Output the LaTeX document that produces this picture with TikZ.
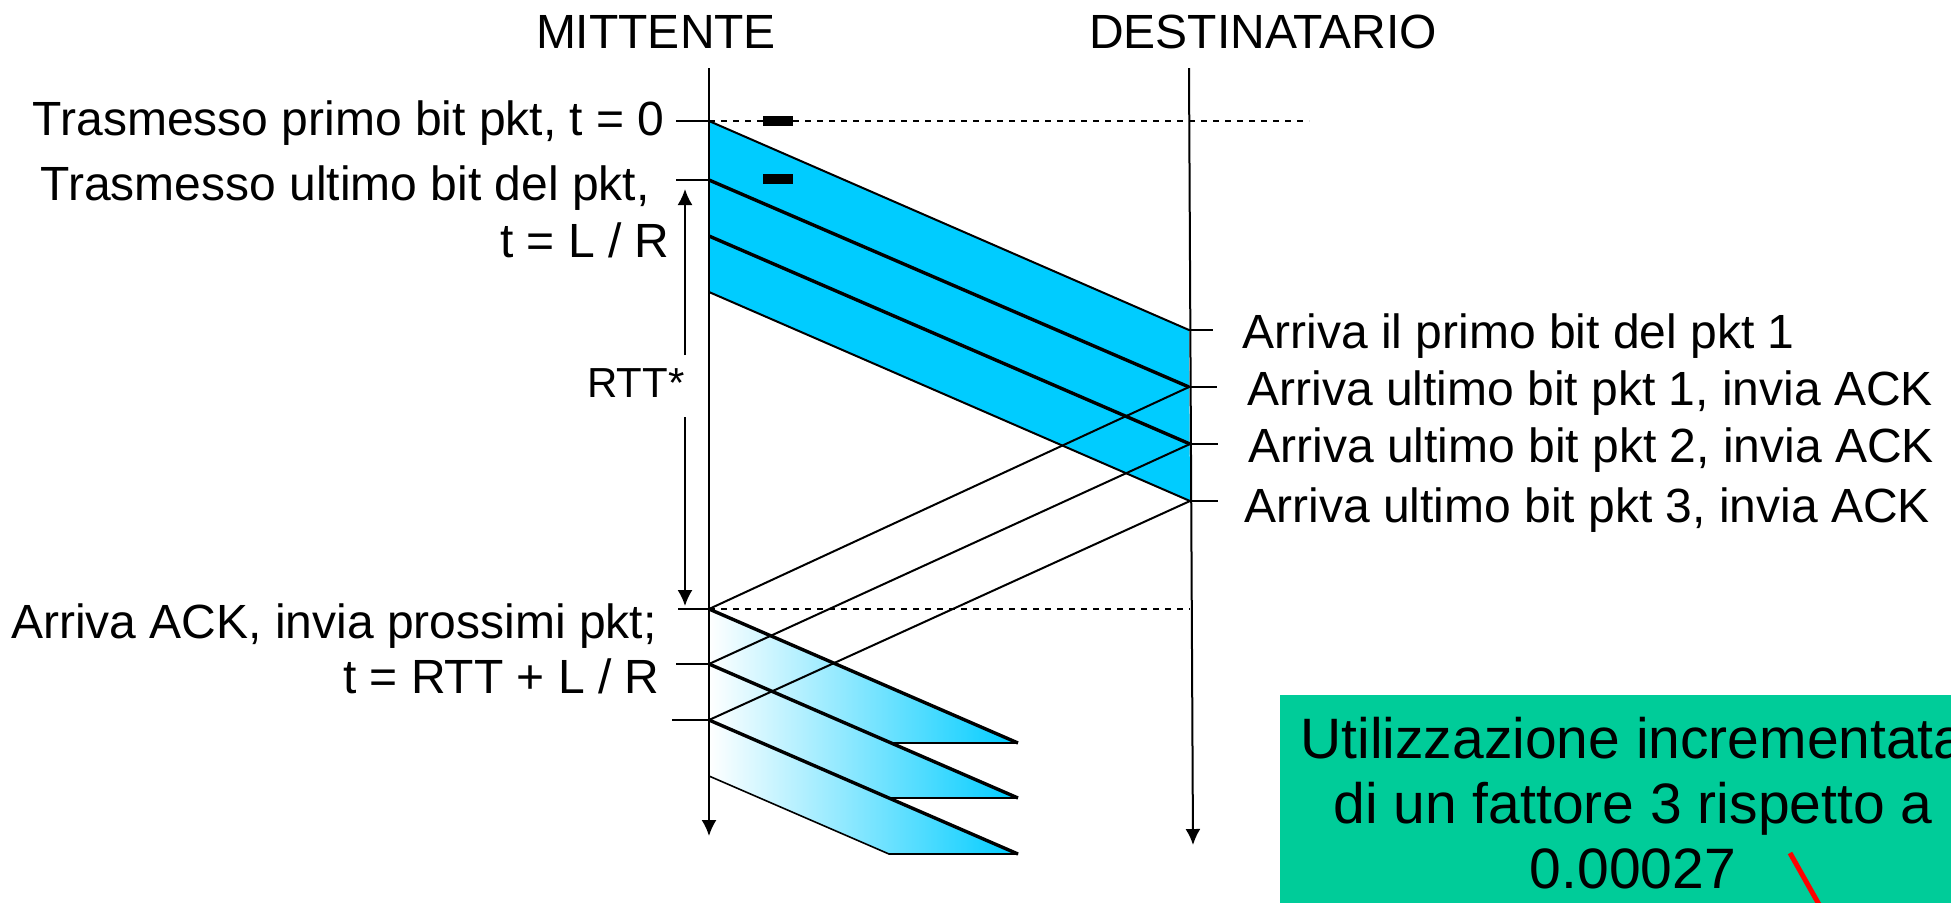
\documentclass[tikz,border=0pt]{standalone}
\usepackage{fontspec}
\setmainfont{Liberation Sans}
\usetikzlibrary{arrows.meta,positioning}

\definecolor{pktblue}{RGB}{0,204,255}
\definecolor{boxgreen}{RGB}{0,204,153}

\tikzset{
	timeline/.style={line width=1pt, -{Latex[length=8pt,width=7.5pt]}},
	tick/.style={line width=0.8pt},
	edgeline/.style={line width=1pt},
	bitline/.style={line width=1.7pt},
	ackline/.style={line width=1pt},
	lbl/.style={font=\fontsize{24}{28}\selectfont, inner sep=0pt},
	blip/.style={fill=black, minimum width=15pt, minimum height=5pt, inner sep=0pt},
}

\begin{document}
\begin{tikzpicture}[x=0.5pt,y=-0.5pt]
	\useasboundingbox (0,0) rectangle (1951,902);
	\clip (0,0) rectangle (1951,902);

	% points on the sender and receiver lines
	\coordinate (sTop) at (709,68);
	\coordinate (sEnd) at (709,836);
	\coordinate (rTop) at (1189,68);
	\coordinate (rEnd) at (1193,845);
	\coordinate (s0) at (709,121);
	\coordinate (s1) at (709,180);
	\coordinate (s2) at (709,236);
	\coordinate (s3) at (709,292);
	\coordinate (r0) at (1189,330);
	\coordinate (r1) at (1189,387);
	\coordinate (r2) at (1190,444);
	\coordinate (r3) at (1190,501);
	\coordinate (a1) at (709,609);
	\coordinate (a2) at (709,664);
	\coordinate (a3) at (709,720);
	\coordinate (a4) at (709,776);
	\coordinate (t1) at (1018,743);
	\coordinate (t2) at (1018,798);
	\coordinate (t3) at (1018,854);
	\coordinate (b1) at (890,743);
	\coordinate (b2) at (889,798);
	\coordinate (b3) at (889,854);
	\coordinate (dEnd) at (1309,121);
	\coordinate (rAck) at (1190,609);

	% first window of packets
	\fill[pktblue] (s0) -- (r0) -- (r3) -- (s3) -- cycle;
	\draw[edgeline] (s0) -- (r0);
	\draw[edgeline] (s3) -- (r3);
	\draw[bitline] (s1) -- (r1);
	\draw[bitline] (s2) -- (r2);

	% next window of packets
	\shade[left color=white, right color=pktblue] (a1) -- (t1) -- (b1) -- (a2) -- cycle;
	\shade[left color=white, right color=pktblue] (a2) -- (t2) -- (b2) -- (a3) -- cycle;
	\shade[left color=white, right color=pktblue] (a3) -- (t3) -- (b3) -- (a4) -- cycle;
	\draw[tick] (t1) -- (b1);
	\draw[tick] (t2) -- (b2);
	\draw[tick] (t3) -- (b3) -- (a4);
	\draw[bitline] (a1) -- (t1);
	\draw[bitline] (a2) -- (t2);
	\draw[bitline] (a3) -- (t3);

	% ACKs
	\draw[ackline] (r1) -- (a1);
	\draw[ackline] (r2) -- (a2);
	\draw[ackline] (r3) -- (a3);

	% time lines
	\draw[timeline] (sTop) -- (sEnd);
	\draw[timeline] (rTop) -- (rEnd);
	\draw[dashed, line width=0.7pt] (s0) -- (dEnd);
	\draw[dashed, line width=0.7pt] (a1) -- (rAck);

	\node[blip] (blip0) at (778,121) {};
	\node[blip] (blip1) at (778,179) {};

	% ticks
	\draw[tick] (s0) -- ++(-33,0);
	\draw[tick] (s1) -- ++(-33,0);
	\draw[tick] (a1) -- ++(-31,0);
	\draw[tick] (a2) -- ++(-33,0);
	\draw[tick] (a3) -- ++(-37,0);
	\draw[tick] (r0) -- ++(24,0);
	\draw[tick] (r1) -- ++(28,0);
	\draw[tick] (r2) -- ++(28,0);
	\draw[tick] (r3) -- ++(28,0);

	% RTT
	\node[lbl, font=\fontsize{21}{25}\selectfont, anchor=base west] (rtt) at (587,397) {RTT*};
	\coordinate (rttUp) at (685,189);
	\coordinate (rttA) at (685,355);
	\coordinate (rttB) at (685,417);
	\coordinate (rttDown) at (685,606);
	\draw[timeline] (rttA) -- (rttUp);
	\draw[timeline] (rttB) -- (rttDown);

	% labels
	\node[lbl, anchor=base] (snd) at (656,48) {MITTENTE};
	\node[lbl, anchor=base] (rcv) at (1263,48) {DESTINATARIO};
	\node[lbl, anchor=base east] (tx0) at (665,135) {Trasmesso primo bit pkt, t = 0};
	\node[lbl, anchor=base east] (tx1) at (650,200) {Trasmesso ultimo bit del pkt,};
	\node[lbl, anchor=base east] (tx1t) at (670,257) {t = L / R};
	\node[lbl, anchor=base east] (ack) at (657,638) {Arriva ACK, invia prossimi pkt;};
	\node[lbl, anchor=base east] (ackt) at (660,693) {t = RTT + L / R};
	\node[lbl, anchor=base west] (rx0) at (1242,348) {Arriva il primo bit del pkt 1};
	\node[lbl, anchor=base west] (rx1) at (1247,405) {Arriva ultimo bit pkt 1, invia ACK};
	\node[lbl, anchor=base west] (rx2) at (1248,462) {Arriva ultimo bit pkt 2, invia ACK};
	\node[lbl, anchor=base west] (rx3) at (1244,522) {Arriva ultimo bit pkt 3, invia ACK};

	% utilization box
	\fill[boxgreen] (1280,695) rectangle (1960,910);
	\node[inner sep=0pt, align=center, anchor=base, font=\fontsize{28.5}{32.5}\selectfont] (util) at (1633,888)
		{Utilizzazione incrementata\\di un fattore 3 rispetto a\\0.00027};
	\coordinate (redA) at (1790,853);
	\coordinate (redB) at (1830,924);
	\draw[red, line width=2.5pt] (redA) -- (redB);
\end{tikzpicture}
\end{document}
